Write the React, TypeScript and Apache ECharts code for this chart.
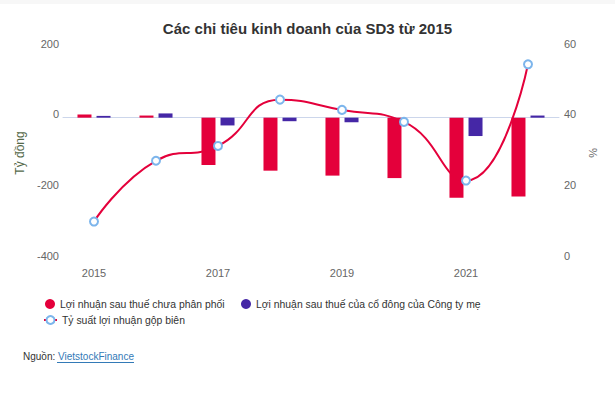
import React, { useEffect, useRef } from "react";
import * as echarts from "echarts";

const categories = ["2015", "2016", "2017", "2018", "2019", "2020", "2021", "2022"];
const undistributedProfit = [9, 6, -134, -150, -164, -171, -227, -223];
const parentProfit = [5, 12, -22, -10, -13, 0, -52, 6];
const grossMargin = [10.6, 27.8, 32.0, 45.1, 42.2, 38.8, 22.2, 55.1];
const leftTicks = { min: -400, max: 200, interval: 200 };
const rightTicks = { min: 0, max: 60, interval: 20 };

const NAME1 = "Lợi nhuận sau thuế chưa phân phối";
const NAME2 = "Lợi nhuận sau thuế của cổ đông của Công ty mẹ";
const NAME3 = "Tỷ suất lợi nhuận gộp biên";

const FONT = "'Liberation Sans', Arial, Helvetica, sans-serif";
const RED = "#e4003b";
const PURPLE = "#4527a6";

const legendText = { fontSize: 10.4, color: "#333", fontFamily: FONT };

export default function App() {
  const ref = useRef<HTMLDivElement>(null);
  useEffect(() => {
    document.body.style.margin = "0";
    const chart = echarts.init(ref.current!, null, { renderer: "svg" });
    chart.setOption({
      animation: false,
      textStyle: { fontFamily: FONT },
      title: {
        text: "Các chỉ tiêu kinh doanh của SD3 từ 2015",
        left: "center",
        top: 16,
        textStyle: { fontSize: 15, fontWeight: "bold", color: "#333", fontFamily: FONT },
      },
      grid: { left: 63, right: 56, top: 47, bottom: 140 },
      legend: [
        {
          data: [NAME1],
          left: 45,
          top: 299,
          padding: 0,
          itemWidth: 10,
          itemHeight: 10,
          icon: "circle",
          selectedMode: false,
          textStyle: legendText,
        },
        {
          data: [NAME2],
          left: 241,
          top: 299,
          padding: 0,
          itemWidth: 10,
          itemHeight: 10,
          icon: "circle",
          selectedMode: false,
          textStyle: legendText,
        },
        {
          data: [NAME3],
          left: 43,
          top: 315,
          padding: 0,
          itemWidth: 13,
          itemHeight: 10,
          selectedMode: false,
          textStyle: legendText,
        },
      ],
      xAxis: {
        type: "category",
        data: categories,
        boundaryGap: true,
        axisLine: { lineStyle: { color: "#ccd6eb" } },
        axisTick: { inside: true, length: 10, alignWithLabel: true, interval: 1, lineStyle: { color: "#ccd6eb" } },
        axisLabel: { interval: 1, color: "#666", fontSize: 11, margin: 8, fontFamily: FONT },
        splitLine: { show: false },
      },
      yAxis: [
        {
          type: "value",
          ...leftTicks,
          name: "Tỷ đồng",
          nameLocation: "middle",
          nameGap: 31,
          nameRotate: 90,
          nameTextStyle: { color: "#55694a", fontSize: 12, fontFamily: FONT },
          axisLine: { show: false },
          axisTick: { show: false },
          splitLine: { show: false },
          axisLabel: { color: "#666", fontSize: 11, margin: 4, verticalAlign: "bottom", lineHeight: 7, fontFamily: FONT },
        },
        {
          type: "value",
          ...rightTicks,
          name: "%",
          nameLocation: "middle",
          nameGap: 26,
          nameRotate: -90,
          nameTextStyle: { color: "#666", fontSize: 11, fontFamily: FONT },
          axisLine: { show: false },
          axisTick: { show: false },
          splitLine: { show: false },
          axisLabel: { color: "#666", fontSize: 11, margin: 5, verticalAlign: "bottom", lineHeight: 7, fontFamily: FONT },
        },
      ],
      series: [
        {
          name: NAME1,
          type: "bar",
          data: undistributedProfit,
          barWidth: 14,
          barGap: "36%",
          itemStyle: { color: RED },
        },
        {
          name: NAME2,
          type: "bar",
          data: parentProfit,
          barWidth: 14,
          barGap: "36%",
          itemStyle: { color: PURPLE },
        },
        {
          name: NAME3,
          type: "line",
          yAxisIndex: 1,
          data: grossMargin,
          smooth: true,
          symbol: "circle",
          symbolSize: 8,
          lineStyle: { color: RED, width: 2 },
          itemStyle: { color: "#ffffff", borderColor: "#7cb5ec", borderWidth: 2 },
          z: 5,
        },
      ],
      graphic: [
        { type: "rect", left: 0, top: 0, shape: { width: 615, height: 4 }, style: { fill: "#f7f7f7" }, silent: true },
        {
          type: "text",
          left: 23,
          top: 351,
          style: {
            text: "{a|Nguồn: }{b|VietstockFinance}",
            fontFamily: FONT,
            rich: {
              a: { fontSize: 10, fill: "#333", color: "#333", fontFamily: FONT },
              b: { fontSize: 10, fill: "#337ab7", color: "#337ab7", fontFamily: FONT },
            },
          },
        },
        {
          type: "line",
          shape: { x1: 57, y1: 362.5, x2: 134, y2: 362.5 },
          style: { stroke: "#337ab7", lineWidth: 1 },
        },
      ],
    });
    return () => chart.dispose();
  }, []);
  return <div ref={ref} style={{ width: 615, height: 399 }} />;
}
